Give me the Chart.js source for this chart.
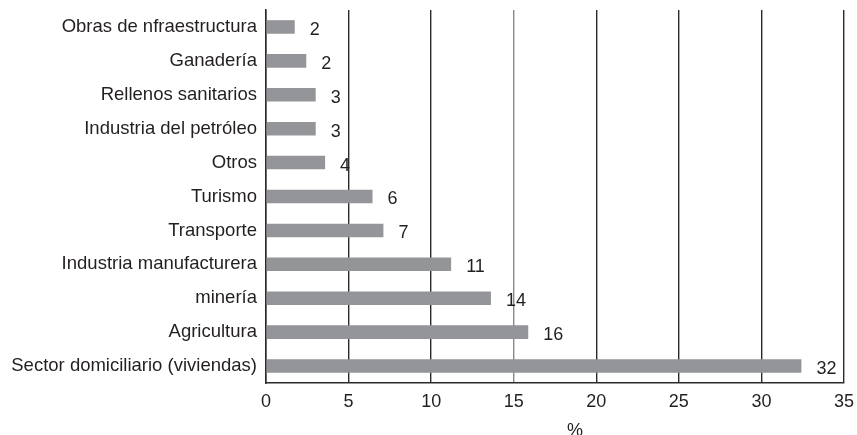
<!DOCTYPE html>
<html>
<head>
<meta charset="utf-8">
<script src="https://cdn.jsdelivr.net/npm/chart.js@4/dist/chart.umd.min.js"></script>
<style>
  html, body { margin: 0; padding: 0; background: #fff; }
  #wrap { width: 857px; height: 435px; position: relative; }
</style>
</head>
<body>
<div id="wrap"><canvas id="chart"></canvas></div>
<script>
// Sectores y su porcentaje (barras horizontales, de arriba hacia abajo)
const sectores = [
  "Obras de nfraestructura",
  "Ganadería",
  "Rellenos sanitarios",
  "Industria del petróleo",
  "Otros",
  "Turismo",
  "Transporte",
  "Industria manufacturera",
  "minería",
  "Agricultura",
  "Sector domiciliario (viviendas)"
];
const porcentajes = [1.74, 2.44, 3.01, 3.01, 3.58, 6.45, 7.11, 11.21, 13.62, 15.88, 32.42];
const ejeX = { min: 0, max: 35, step: 5 };
const tituloEjeX = "%";

const FONT = "'Liberation Sans', Arial, Helvetica, sans-serif";
const TEXT = "#231f20";
const LINE = "#2b2b2b";

// etiquetas con el valor redondeado a la derecha de cada barra, y el título del eje
const etiquetas = {
  id: "etiquetas",
  afterDatasetsDraw(chart) {
    const ctx = chart.ctx;
    const meta = chart.getDatasetMeta(0);
    ctx.save();
    ctx.font = "18px " + FONT;
    ctx.fillStyle = TEXT;
    ctx.textAlign = "left";
    ctx.textBaseline = "middle";
    meta.data.forEach((bar, i) => {
      ctx.fillText(String(Math.round(porcentajes[i])), bar.x + 15, bar.y + 3);
    });
    const area = chart.chartArea;
    ctx.textAlign = "center";
    ctx.fillText(tituloEjeX, (area.left + area.right) / 2 + 20, 431);
    ctx.restore();
  }
};

new Chart(document.getElementById("chart"), {
  type: "bar",
  data: {
    labels: sectores,
    datasets: [{
      data: porcentajes,
      backgroundColor: "#939598",
      borderWidth: 0,
      barPercentage: 0.4,
      categoryPercentage: 1
    }]
  },
  options: {
    indexAxis: "y",
    responsive: true,
    maintainAspectRatio: false,
    animation: false,
    layout: { padding: { top: 10, right: 13, left: 0, bottom: 0 } },
    plugins: { legend: { display: false }, tooltip: { enabled: false } },
    scales: {
      x: {
        min: ejeX.min,
        max: ejeX.max,
        ticks: { stepSize: ejeX.step, color: TEXT, font: { family: FONT, size: 18 }, padding: 8, maxRotation: 0 },
        grid: {
          drawTicks: false,
          lineWidth: 1.4,
          color: c => (c.tick && c.tick.value === 15 ? "#8a8a8a" : LINE)
        },
        border: { display: true, color: LINE, width: 1.5 },
        afterFit: s => { s.height = 52; s.paddingLeft = 0; s.paddingRight = 0; }
      },
      y: {
        ticks: { color: TEXT, font: { family: FONT, size: 18.5 }, padding: 9 },
        grid: { display: false, drawTicks: false },
        border: { display: true, color: LINE, width: 1.5 },
        afterFit: s => { s.width = 266; s.paddingTop = 0; s.paddingBottom = 0; }
      }
    }
  },
  plugins: [etiquetas]
});
</script>
</body>
</html>
